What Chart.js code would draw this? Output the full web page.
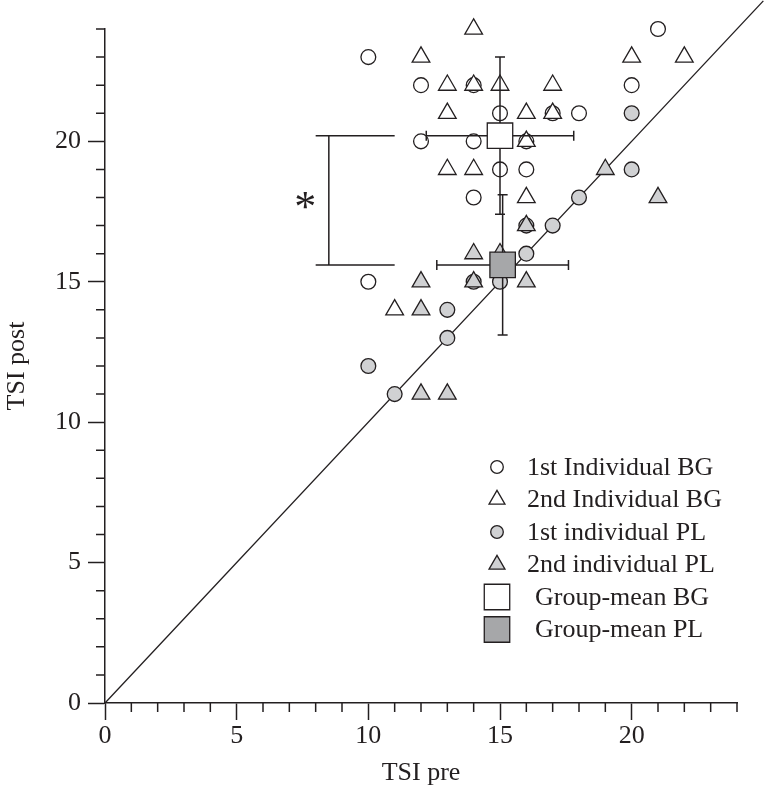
<!DOCTYPE html>
<html>
<head>
<meta charset="utf-8">
<script src="https://cdn.jsdelivr.net/npm/chart.js@4.4.1/dist/chart.umd.min.js"></script>
<style>
  html, body { margin: 0; padding: 0; background: #fff; }
  canvas { display: block; }
</style>
</head>
<body>
<canvas id="tsiChart" width="764" height="792"></canvas>
<script>
// individual subjects (TSI pre, TSI post)
const bg1Pre  = [10, 12, 14, 15, 17, 18, 20, 21, 12, 14, 16, 15, 16, 14, 10];
const bg1Post = [23, 22, 22, 21, 21, 21, 22, 24, 20, 20, 20, 19, 19, 18, 15];

const bg2Pre  = [14, 12, 20, 22, 13, 14, 15, 17, 13, 16, 17, 16, 13, 14, 16, 11];
const bg2Post = [24, 23, 23, 23, 22, 22, 22, 22, 21, 21, 21, 20, 19, 19, 18, 14];

const pl1Pre  = [20, 20, 18, 17, 16, 16, 15, 14, 13, 13, 10, 11];
const pl1Post = [21, 19, 18, 17, 17, 16, 15, 15, 14, 13, 12, 11];

const pl2Pre  = [19, 21, 16, 15, 14, 12, 14, 16, 12, 12, 13];
const pl2Post = [19, 18, 17, 16, 16, 15, 15, 15, 14, 11, 11];

// group means with error (BG, PL)
const meanLabels = ['Group-mean BG', 'Group-mean PL'];
const meanPre    = [15.0, 15.1];
const meanPost   = [20.2, 15.6];
const meanPreErr = [2.8, 2.5];
const meanPostErr = [2.8, 2.5];

// identity line pre = post
const identity = [0, 25];

const seriesLabels = ['1st Individual BG', '2nd Individual BG', '1st individual PL', '2nd individual PL'];

const ink = '#231f20';
const lightGrey = '#d0d1d3';
const darkGrey = '#a6a7a9';
const serif = "'Liberation Serif', 'DejaVu Serif', serif";

const toPoints = (xs, ys) => xs.map((x, i) => ({ x: x, y: ys[i] }));

const extras = {
  id: 'extras',
  beforeDatasetDraw(chart, args) {
    // error bars go under the mean squares but above the single subjects
    if (args.index !== 5) return;
    const ctx = chart.ctx;
    const xs = chart.scales.x, ys = chart.scales.y;
    const cap = 5;
    ctx.save();
    ctx.strokeStyle = ink;
    ctx.lineWidth = 1.5;
    for (let i = 0; i < meanPre.length; i++) {
      const cx = xs.getPixelForValue(meanPre[i]);
      const cy = ys.getPixelForValue(meanPost[i]);
      const x0 = xs.getPixelForValue(meanPre[i] - meanPreErr[i]);
      const x1 = xs.getPixelForValue(meanPre[i] + meanPreErr[i]);
      const y0 = ys.getPixelForValue(meanPost[i] - meanPostErr[i]);
      const y1 = ys.getPixelForValue(meanPost[i] + meanPostErr[i]);
      ctx.beginPath();
      ctx.moveTo(x0, cy); ctx.lineTo(x1, cy);
      ctx.moveTo(x0, cy - cap); ctx.lineTo(x0, cy + cap);
      ctx.moveTo(x1, cy - cap); ctx.lineTo(x1, cy + cap);
      ctx.moveTo(cx, y0); ctx.lineTo(cx, y1);
      ctx.moveTo(cx - cap, y0); ctx.lineTo(cx + cap, y0);
      ctx.moveTo(cx - cap, y1); ctx.lineTo(cx + cap, y1);
      ctx.stroke();
    }
    ctx.restore();
  },
  afterDraw(chart) {
    const ctx = chart.ctx;
    const xs = chart.scales.x, ys = chart.scales.y;
    ctx.save();
    ctx.strokeStyle = ink;
    ctx.lineWidth = 1.5;

    // minor ticks every 1 unit
    ctx.beginPath();
    for (let v = Math.ceil(xs.min); v <= xs.max; v++) {
      if (v % 5 === 0) continue;
      const px = xs.getPixelForValue(v);
      ctx.moveTo(px, xs.top); ctx.lineTo(px, xs.top + 9);
    }
    for (let v = Math.ceil(ys.min); v <= ys.max; v++) {
      if (v % 5 === 0) continue;
      const py = ys.getPixelForValue(v);
      ctx.moveTo(ys.right, py); ctx.lineTo(ys.right - 9, py);
    }
    ctx.stroke();

    // significance bracket between the two group means
    const bx = xs.getPixelForValue(8.5);
    const bl = xs.getPixelForValue(8.0);
    const br = xs.getPixelForValue(11.0);
    const bt = ys.getPixelForValue(meanPost[0]);
    const bb = ys.getPixelForValue(meanPost[1]);
    ctx.beginPath();
    ctx.moveTo(bl, bt); ctx.lineTo(br, bt);
    ctx.moveTo(bl, bb); ctx.lineTo(br, bb);
    ctx.moveTo(bx, bt); ctx.lineTo(bx, bb);
    ctx.stroke();

    ctx.fillStyle = ink;
    ctx.font = '44px ' + serif;
    ctx.textAlign = 'center';
    ctx.textBaseline = 'alphabetic';
    const m = ctx.measureText('*');
    const sy = ys.getPixelForValue(17.9) + (m.actualBoundingBoxAscent - m.actualBoundingBoxDescent) / 2;
    ctx.fillText('*', xs.getPixelForValue(7.6), sy);

    // legend
    const lx = 497;
    let ly = 467;
    ctx.font = '26px ' + serif;
    ctx.textAlign = 'left';
    ctx.textBaseline = 'middle';
    chart.data.datasets.forEach((ds) => {
      if (ds.hideInLegend) return;
      ctx.fillStyle = ds.backgroundColor;
      ctx.strokeStyle = ds.borderColor;
      ctx.lineWidth = ds.borderWidth;
      let r = ds.pointRadius;
      if (ds.pointStyle === 'circle') r = 6.3;
      if (ds.pointStyle === 'triangle') r = 9.2;
      Chart.helpers.drawPoint(ctx, { pointStyle: ds.pointStyle, radius: r, rotation: 0, borderWidth: ds.borderWidth }, lx, ly);
      ctx.fillStyle = ink;
      ctx.fillText(ds.label, ds.pointStyle === 'rect' ? 535 : 527, ly + 1);
      ly += 32.5;
    });
    ctx.restore();
  }
};

const pointSet = (label, xs, ys, style, radius, fill, order) => ({
  label: label,
  data: toPoints(xs, ys),
  pointStyle: style,
  pointRadius: radius,
  pointHoverRadius: radius,
  backgroundColor: fill,
  borderColor: ink,
  borderWidth: 1.3,
  showLine: false,
  clip: false,
  order: order
});

new Chart(document.getElementById('tsiChart'), {
  type: 'scatter',
  data: {
    datasets: [
      {
        label: 'identity',
        data: toPoints(identity, identity),
        showLine: true,
        pointRadius: 0,
        borderColor: ink,
        borderWidth: 1.3,
        clip: false,
        hideInLegend: true,
        order: 10
      },
      pointSet(seriesLabels[0], bg1Pre, bg1Post, 'circle', 7.4, '#ffffff', 6),
      pointSet(seriesLabels[1], bg2Pre, bg2Post, 'triangle', 10.2, '#ffffff', 5),
      pointSet(seriesLabels[2], pl1Pre, pl1Post, 'circle', 7.4, lightGrey, 4),
      pointSet(seriesLabels[3], pl2Pre, pl2Post, 'triangle', 10.2, lightGrey, 3),
      pointSet(meanLabels[0], [meanPre[0]], [meanPost[0]], 'rect', 18, '#ffffff', 2),
      pointSet(meanLabels[1], [meanPre[1]], [meanPost[1]], 'rect', 18, darkGrey, 1)
    ]
  },
  options: {
    responsive: false,
    animation: false,
    devicePixelRatio: 1,
    layout: { padding: { left: 0, right: 27, top: 29, bottom: 0 } },
    plugins: {
      legend: { display: false },
      tooltip: { enabled: false }
    },
    scales: {
      x: {
        type: 'linear',
        min: 0,
        max: 24,
        afterFit: (s) => { s.height = 89; },
        border: { color: ink, width: 1.5 },
        grid: { drawOnChartArea: false, drawTicks: true, tickLength: 17, tickColor: ink, tickWidth: 1.5 },
        ticks: { stepSize: 5, includeBounds: false, color: ink, padding: 1, maxRotation: 0, font: { family: serif, size: 26 } },
        title: { display: true, text: 'TSI pre', color: ink, padding: { top: 0, bottom: 3 }, font: { family: serif, size: 26 } }
      },
      y: {
        type: 'linear',
        min: 0,
        max: 24,
        afterFit: (s) => { s.width = 105; },
        border: { color: ink, width: 1.5 },
        grid: { drawOnChartArea: false, drawTicks: true, tickLength: 17, tickColor: ink, tickWidth: 1.5 },
        ticks: { stepSize: 5, includeBounds: false, color: ink, padding: 7, font: { family: serif, size: 26 } },
        title: { display: true, text: 'TSI post', color: ink, padding: { top: 2, bottom: 0 }, font: { family: serif, size: 26 } }
      }
    }
  },
  plugins: [extras]
});
</script>
</body>
</html>
